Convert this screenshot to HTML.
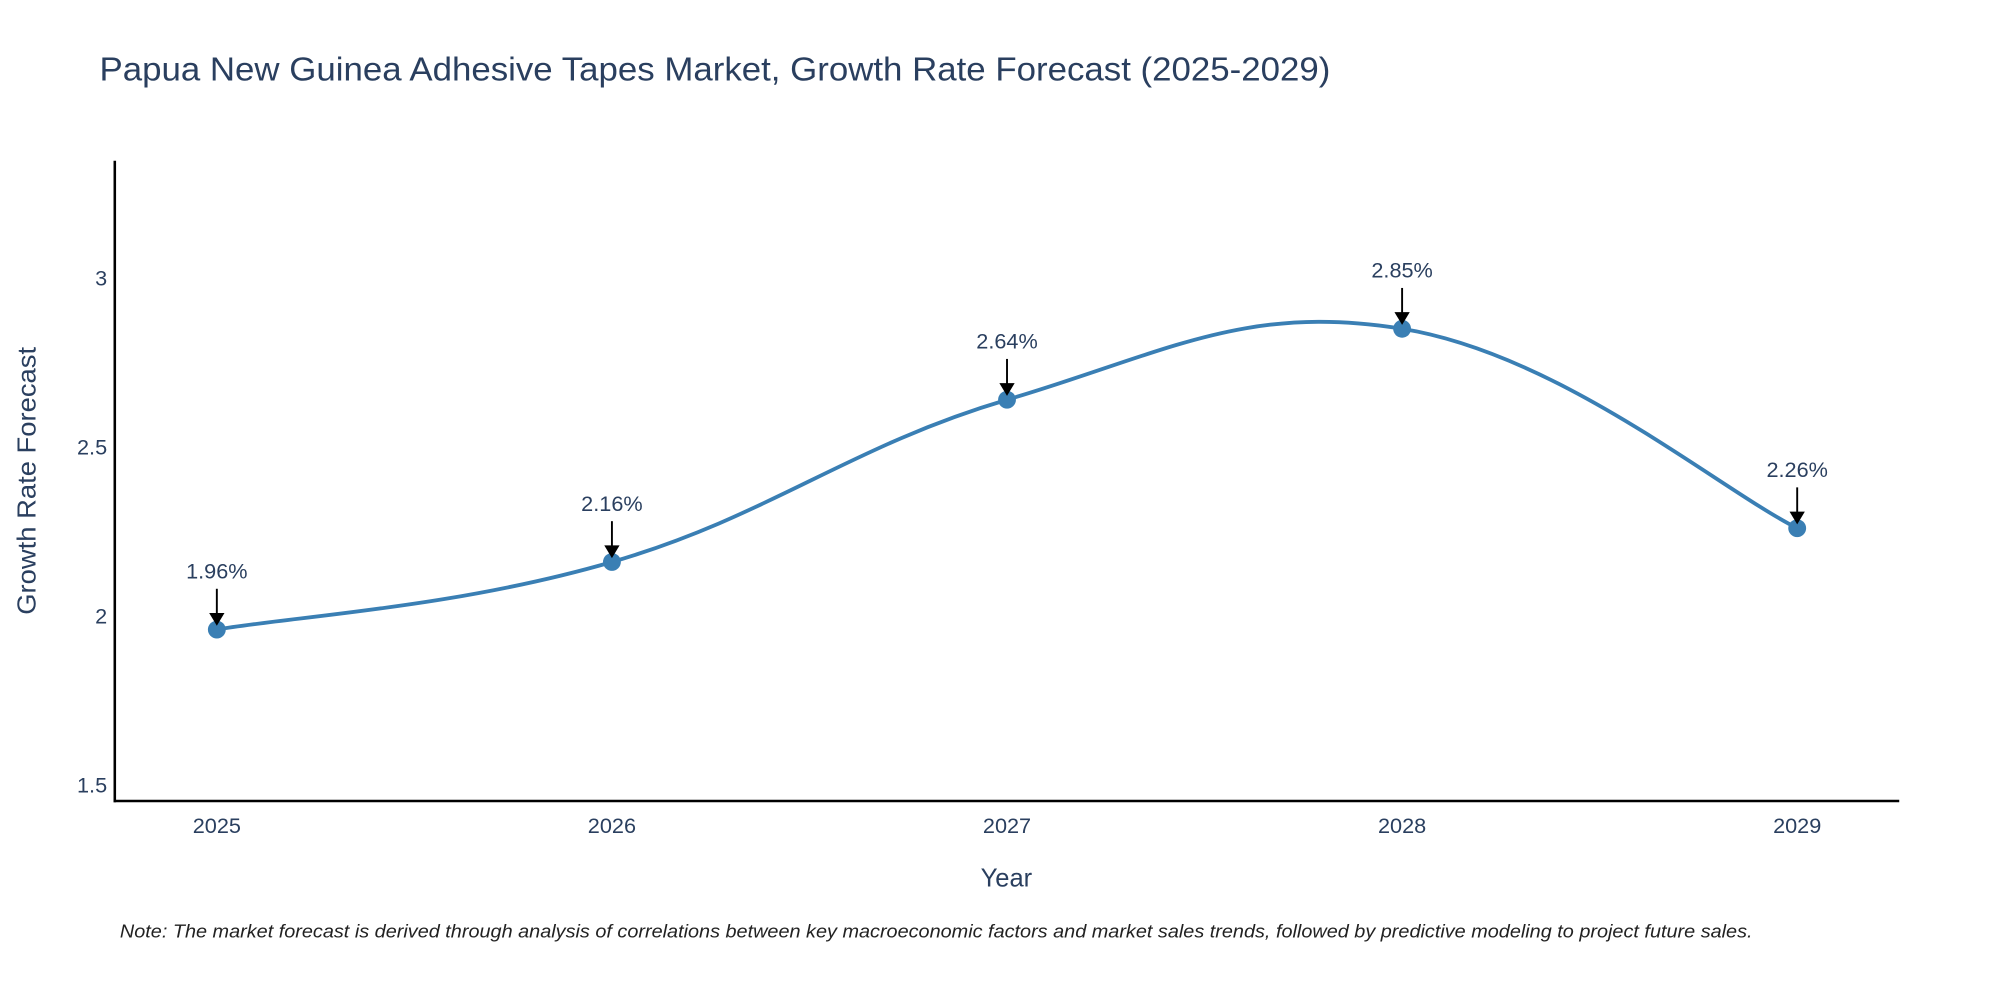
<!DOCTYPE html>
<html><head><meta charset="utf-8"><style>
html,body{margin:0;padding:0;background:#fff;}
svg{display:block;font-family:"Liberation Sans","Open Sans",sans-serif;}
</style></head><body>
<svg id="chart" width="2000" height="1000" viewBox="0 0 1568 784">
<text x="78" y="63" font-size="26" fill="#2a3f5f" textLength="965" lengthAdjust="spacingAndGlyphs">Papua New Guinea Adhesive Tapes Market, Growth Rate Forecast (2025-2029)</text>
<g id="yticks"></g>
<g id="xticks"></g>
<line x1="90" y1="126" x2="90" y2="629" stroke="#000" stroke-width="2"/>
<line x1="89" y1="628" x2="1489" y2="628" stroke="#000" stroke-width="2"/>
<path id="line" fill="none" stroke="#3a7fb4" stroke-width="3"/>
<g id="points"></g>
<text x="28" y="377" font-size="20" fill="#2a3f5f" text-anchor="middle" textLength="210" lengthAdjust="spacingAndGlyphs" transform="rotate(-90 28 377)">Growth Rate Forecast</text>
<text x="789" y="695" font-size="20" fill="#2a3f5f" text-anchor="middle">Year</text>
<text x="94" y="735" font-size="14.5" font-style="italic" fill="#222" textLength="1280" lengthAdjust="spacingAndGlyphs">Note: The market forecast is derived through analysis of correlations between key macroeconomic factors and market sales trends, followed by predictive modeling to project future sales.</text>
</svg>
<script>
const years = [2025, 2026, 2027, 2028, 2029];
const values = [1.96, 2.16, 2.64, 2.85, 2.26];
const labels = ["1.96%", "2.16%", "2.64%", "2.85%", "2.26%"];
const yTickVals = [1.5, 2, 2.5, 3];
const yTickLabels = ["1.5", "2", "2.5", "3"];
const NS = "http://www.w3.org/2000/svg";
function xs(v){ return 170 + (v - 2025) * 309.75; }
function ys(v){ return 483 - (v - 2) * 265; }
function mk(tag, attrs, parent){ const e=document.createElementNS(NS,tag); for(const k in attrs) e.setAttribute(k,attrs[k]); parent.appendChild(e); return e; }
const yt=document.getElementById('yticks');
yTickVals.forEach((v,i)=>{
  const t=mk('text',{x:84,y:ys(v)+6,'font-size':17,fill:'#2a3f5f','text-anchor':'end'},yt);
  t.textContent=yTickLabels[i];
  
  
});
const xt=document.getElementById('xticks');
years.forEach(y=>{
  const t=mk('text',{x:xs(y),y:653,'font-size':17,fill:'#2a3f5f','text-anchor':'middle'},xt);
  t.textContent=String(y);
  
  
});
const P=years.map((y,i)=>[xs(y),ys(values[i])]);
let d=`M${P[0][0]},${P[0][1]}`;
const k=0.2;
for(let i=0;i<P.length-1;i++){
  const p0=P[Math.max(0,i-1)],p1=P[i],p2=P[i+1],p3=P[Math.min(P.length-1,i+2)];
  const c1=[p1[0]+(p2[0]-p0[0])*k,p1[1]+(p2[1]-p0[1])*k];
  const c2=[p2[0]-(p3[0]-p1[0])*k,p2[1]-(p3[1]-p1[1])*k];
  d+=` C${c1[0]},${c1[1]} ${c2[0]},${c2[1]} ${p2[0]},${p2[1]}`;
}
document.getElementById('line').setAttribute('d',d);
const pts=document.getElementById('points');
P.forEach((p,i)=>{
  const c=mk('circle',{cx:p[0],cy:p[1],r:7,fill:'#3a7fb4'},pts);
  
  
  const l=mk('line',{x1:p[0],y1:p[1]-32,x2:p[0],y2:p[1]-10,stroke:'#000','stroke-width':1.5},pts);
  
  
  const h=mk('polygon',{points:`${p[0]-6},${p[1]-13} ${p[0]+6},${p[1]-13} ${p[0]},${p[1]-3}`,fill:'#000'},pts);
  
  
  const t=mk('text',{x:p[0],y:p[1]-40,'font-size':17,fill:'#2a3f5f','text-anchor':'middle'},pts);
  t.textContent=labels[i];
  
  
});
</script>
</body></html>
